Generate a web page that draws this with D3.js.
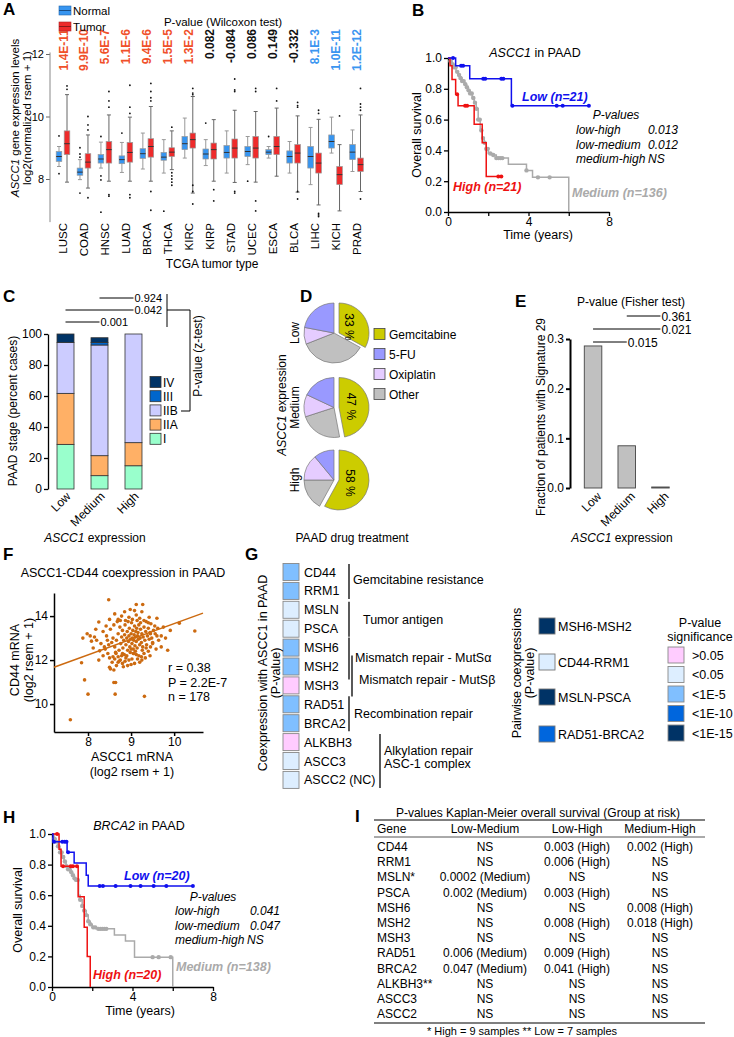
<!DOCTYPE html>
<html><head><meta charset="utf-8">
<script src="https://cdn.jsdelivr.net/npm/d3@7"></script>
<style>
body{margin:0;background:#fff;}
svg{display:block;font-family:"Liberation Sans",Arial,sans-serif;}
</style></head><body>
<svg id="fig" width="734" height="1037"></svg>
<script>
// ================= DATA =================
// Panel A
const tcgaTypes = ["LUSC","COAD","HNSC","LUAD","BRCA","THCA","KIRC","KIRP","STAD","UCEC","ESCA","BLCA","LIHC","KICH","PRAD"];
const wilcoxonP = ["1.4E-11","9.9E-10","5.6E-7","1.1E-6","9.4E-6","1.5E-5","1.3E-2","0.082","-0.084","0.086","0.149","-0.332","8.1E-3","1.0E-11","1.2E-12"];
const wilcoxonDir = ["up","up","up","up","up","up","up","ns","ns","ns","ns","ns","down","down","down"];
const normalLo  = [8.40,7.98,8.35,8.21,8.32,8.19,8.67,8.43,8.19,8.46,8.67,8.19,7.82,8.83,8.24];
const normalQ1  = [8.56,8.12,8.51,8.49,8.66,8.60,8.94,8.64,8.67,8.72,8.78,8.51,8.35,8.99,8.62];
const normalMed = [8.72,8.22,8.64,8.62,8.81,8.70,9.13,8.80,8.85,8.88,8.86,8.72,8.72,9.20,8.86];
const normalQ3  = [8.88,8.35,8.78,8.74,8.97,8.85,9.36,8.96,9.07,9.04,8.94,8.90,9.04,9.41,9.10];
const normalHi  = [9.04,8.62,9.18,9.17,9.47,9.26,9.95,9.26,9.54,9.36,9.04,9.20,9.65,9.98,9.57];
const normalOut = [[9.38,8.17],[9.0,8.8,8.7,7.55],[9.36,8.1,7.97,6.94],[9.47],[],[6.97],[],[9.79],[],[7.93],[9.36],[],[],[],[]];
const tumorLo   = [7.90,7.71,7.93,7.93,7.93,8.30,7.55,7.93,7.89,7.90,8.09,7.58,7.17,6.98,7.60];
const tumorQ1   = [8.78,8.35,8.51,8.54,8.70,8.72,8.99,8.64,8.67,8.67,8.78,8.51,8.19,7.82,8.24];
const tumorMed  = [9.13,8.54,8.94,8.85,9.04,8.86,9.26,8.94,8.99,8.99,9.04,8.83,8.51,8.14,8.46];
const tumorQ3   = [9.54,8.81,9.20,9.17,9.29,9.00,9.47,9.15,9.28,9.36,9.36,9.10,8.83,8.40,8.67];
const tumorHi   = [10.70,9.41,10.05,9.98,10.32,9.54,10.64,9.90,10.20,10.16,10.27,10.02,9.91,9.10,10.05];
const tumorOut  = [[10.98,10.87],[10.0,9.73,9.57,7.4],[10.8,10.5,10.3,7.5,7.45],[11.0,10.3,10.1,7.5,7.4],
  [11.06,10.8,10.6,10.5,7.6,7.0],[9.66,8.2,8.1,8.0,7.9,7.8],[10.9,10.75,10.7,7.8,7.6,7.2],[7.66,7.3],
  [11.2,10.85,10.8,7.6,7.55],[10.9,10.8,7.3,6.98],[10.9,10.5],[10.45,10.35,10.3,7.6,7.36],
  [10.2,10.1,6.9,6.85,6.8],[10.02],[10.9,10.4,10.3,10.2,7.36]];

// Panel B (ASCC1 KM)
const bLowT = [0,0.38,1.08,3.15], bLowS = [1,0.95,0.865,0.69], bLowEnd = 7.0;
const bLowCens = [0.25,0.65,0.75,1.75,1.85,2.65,2.75,3.2,5.4,5.7,7.0];
const bHighT = [0,0.1,0.2,0.38,0.5,1.3,1.7,1.9], bHighS = [1,0.95,0.86,0.765,0.69,0.57,0.45,0.23], bHighEnd = 2.7;
const bHighCens = [0.45,0.85,0.95,2.5,2.65];
const bMedT = [0,0.1,0.2,0.3,0.4,0.5,0.6,0.7,0.8,0.9,1.0,1.1,1.2,1.3,1.4,1.5,1.6,1.7,1.8,1.9,2.0,2.2,2.4,3.0,3.9,4.2,6.0];
const bMedS = [1,0.98,0.96,0.94,0.91,0.89,0.87,0.85,0.83,0.81,0.79,0.77,0.74,0.71,0.67,0.6,0.53,0.48,0.45,0.41,0.38,0.37,0.35,0.31,0.27,0.225,0];
const bMedEnd = 6.0;
const bMedCens = [0.12,0.22,0.3,0.38,0.46,0.55,0.62,0.7,0.78,0.86,0.94,1.02,1.1,1.18,1.26,1.34,1.42,1.5,1.58,1.66,1.74,1.82,1.9,1.98,2.1,2.25,2.4,2.5,2.6,2.7,3.9,4.47,5.05];
const bPvals = [["low-high","0.013"],["low-medium","0.012"],["medium-high","NS"]];

// Panel C
const stageNames = ["I","IIA","IIB","III","IV"];
const expGroups = ["Low","Medium","High"];
const stageLow = [28.8,32.9,32.9,0,5.4];
const stageMedium = [8.6,12.9,71.4,1.7,3.0];
const stageHigh = [15.0,14.9,70.1,0,0];
const stagePairs = [["Low","Medium","0.001"],["Low","High","0.042"],["Medium","High","0.924"]];

// Panel D
const drugNames = ["Gemcitabine","5-FU","Oxiplatin","Other"];
const drugLow = [33,22,9,36];
const drugMedium = [47,18,12,23];
const drugHigh = [58,11,14,17];

// Panel E
const sigFraction = [0.286,0.085,0.002];
const sigPairs = [["Low","Medium","0.015"],["Low","High","0.021"],["Medium","High","0.361"]];

// Panel F
const ascc1CD44 = [[8.48,14.74],[9.12,14.53],[9.27,14.53],[8.98,14.3],[8.25,13.73],[7.98,13.2],[7.88,13.0],[8.08,12.86],[8.15,13.05],
[8.27,12.42],[7.85,11.88],[7.92,11.1],[8.0,10.45],[7.59,9.29],[8.6,10.98],[8.64,10.98],[8.63,10.45],[9.31,10.35],[9.85,12.45],
[9.91,13.35],[10.12,13.68],[10.48,13.32],[8.5,11.67],[8.52,11.6],[8.58,12.15],[8.4,12.5],[8.35,13.3],[8.43,13.1],[8.48,12.7],
[8.7,13.85],[8.75,13.8],[9.2,13.9],[9.35,13.75],[9.6,13.9],[9.55,13.55],[9.45,13.2],[9.6,13.1],[9.5,12.8],[9.4,12.4],[9.3,12.3],
[9.2,11.9],[9.25,12.0],[9.0,11.8],[8.95,12.0],[8.8,11.85],[8.7,11.9],[8.65,12.3],[8.62,12.05],[8.78,12.2],[8.88,12.1],[9.05,12.3],
[9.12,12.25],[9.45,12.6],[8.62,12.6],[8.66,12.9],[8.7,13.2],[8.72,12.45],[8.74,13.5],[8.76,12.75],[8.78,13.05],[8.8,13.35],
[8.81,12.55],[8.83,12.9],[8.85,13.15],[8.86,13.6],[8.88,12.7],[8.9,13.0],[8.91,13.3],[8.92,12.45],[8.94,12.85],[8.95,13.1],
[8.96,13.45],[8.97,12.6],[8.99,12.95],[9.0,13.2],[9.01,13.7],[9.02,12.75],[9.03,13.0],[9.04,13.35],[9.05,12.5],[9.06,12.9],
[9.07,13.15],[9.08,13.55],[9.09,12.65],[9.1,13.05],[9.11,13.3],[9.12,12.85],[9.13,13.45],[9.14,12.55],[9.15,13.1],[9.16,13.25],
[9.17,12.95],[9.18,13.6],[9.2,12.7],[9.21,13.0],[9.22,13.4],[9.24,12.8],[9.25,13.2],[9.27,12.6],[9.28,13.05],[9.3,13.5],
[9.32,12.9],[9.34,13.3],[9.36,12.7],[9.38,13.1],[9.4,13.45],[9.42,12.95],[9.44,13.25],[9.46,13.65],[9.48,13.0],[9.52,13.35],
[8.58,13.0],[8.55,12.8],[8.52,13.4],[8.6,13.6],[8.64,12.35],[8.68,13.75],[8.7,12.15],[8.75,12.0],[8.8,12.3],[8.84,12.25],
[8.87,13.8],[8.9,12.2],[8.93,13.75],[8.98,12.35],[9.0,12.5],[9.03,13.85],[9.06,12.3],[9.1,12.4],[9.14,13.8],[9.18,12.2],
[9.22,13.7],[9.26,12.45],[9.3,13.8],[9.35,12.55],[9.4,13.7],[9.5,12.75],[9.56,13.2],[9.62,13.45],[9.64,12.9],[9.7,13.1],
[9.58,12.5],[8.45,12.9],[8.42,13.55],[8.38,12.6],[8.3,12.75],[8.2,12.9],[8.12,12.55],[8.05,13.1],[8.46,12.3],[8.56,11.9],
[8.66,11.75],[8.72,11.95],[8.82,11.7],[8.86,11.95],[8.92,11.75],[9.02,12.05],[9.08,11.85],[9.15,12.05],[9.24,12.15],[9.33,12.1],
[9.44,12.2],[8.5,12.1],[8.6,11.55],[8.95,13.95],[9.12,14.05],[9.42,13.95],[8.78,14.0],[8.5,13.85],[8.62,14.1],[9.25,14.2],
[9.08,14.25],[8.85,14.2],[9.7,12.6],[9.8,13.0],[9.75,13.5],[8.35,12.2],[8.25,12.0],[8.18,13.4]];
const regIntercept = 6.55, regSlope = 0.711;
const corrStats = ["r = 0.38","P = 2.2E-7","n = 178"];

// Panel G
const coexGenes = ["CD44","RRM1","MSLN","PSCA","MSH6","MSH2","MSH3","RAD51","BRCA2","ALKBH3","ASCC3","ASCC2 (NC)"];
const coexLevel = ["<1E-5","<1E-5","<0.05","<0.05","<1E-5","<1E-5",">0.05","<1E-5","<1E-5",">0.05","<0.05","<0.05"];
const geneGroups = [["Gemcitabine resistance",0,1],["Tumor antigen",2,3],["Mismatch repair - MutS\u03b1",4,5],
  ["Mismatch repair - MutS\u03b2",5,6],["Recombination repair",7,8],["Alkylation repair|ASC-1 complex",9,11]];
const sigLevels = [">0.05","<0.05","<1E-5","<1E-10","<1E-15"];
const pairNames = ["MSH6-MSH2","CD44-RRM1","MSLN-PSCA","RAD51-BRCA2"];
const pairLevel = ["<1E-15","<0.05","<1E-15","<1E-10"];

// Panel H (BRCA2 KM)
const hLowT = [0,0.05,0.75,1.1,1.7,1.8], hLowS = [1,0.95,0.88,0.81,0.73,0.66], hLowEnd = 7.0;
const hLowCens = [0.1,0.51,0.63,0.72,0.8,2.37,2.53,3.16,3.9,4.4,5.05,5.68,7.0];
const hHighT = [0,0.35,0.45,1.3,1.6,1.75,1.9], hHighS = [1,0.9,0.79,0.59,0.39,0.2,0], hHighEnd = 1.9;
const hHighCens = [0.25,0.55,0.93,1.04,1.24];
const hMedT = [0,0.1,0.2,0.3,0.4,0.5,0.6,0.7,0.8,0.9,1.0,1.1,1.2,1.32,1.4,1.5,1.6,1.7,1.8,1.9,2.0,2.2,3.1,3.65,4.1,6.0];
const hMedS = [1,0.97,0.95,0.92,0.88,0.85,0.82,0.79,0.77,0.75,0.73,0.71,0.7,0.6,0.57,0.53,0.5,0.47,0.43,0.41,0.39,0.38,0.34,0.3,0.195,0];
const hMedEnd = 6.0;
const hMedCens = [0.12,0.2,0.3,0.4,0.48,0.56,0.64,0.72,0.8,0.88,0.96,1.04,1.12,1.2,1.28,1.4,1.5,1.6,1.7,1.8,1.9,2.05,2.15,2.3,2.4,2.5,2.6,2.7,5.0,5.3,5.9];
const hPvals = [["low-high","0.041"],["low-medium","0.047"],["medium-high","NS"]];

// Panel I
const tableHeader = ["Gene","Low-Medium","Low-High","Medium-High"];
const tableGenes = ["CD44","RRM1","MSLN*","PSCA","MSH6","MSH2","MSH3","RAD51","BRCA2","ALKBH3**","ASCC3","ASCC2"];
const lowMedium = ["NS","NS","0.0002 (Medium)","0.002 (Medium)","NS","NS","NS","0.006 (Medium)","0.047 (Medium)","NS","NS","NS"];
const lowHigh = ["0.003 (High)","0.006 (High)","NS","0.003 (High)","NS","0.008 (High)","NS","0.009 (High)","0.041 (High)","NS","NS","NS"];
const mediumHigh = ["0.002 (High)","NS","NS","NS","0.008 (High)","0.018 (High)","NS","NS","NS","NS","NS","NS"];

// ================= DRAWING =================
const svg = d3.select("#fig");
svg.append("rect").attr("width",734).attr("height",1037).attr("fill","#fff");

function txt(x, y, s, o = {}) {
  const t = svg.append("text").attr("x", x).attr("y", y).text(s)
    .attr("font-size", o.size || 12).attr("fill", o.fill || "#000")
    .attr("text-anchor", o.anchor || "start");
  if (o.weight) t.attr("font-weight", o.weight);
  if (o.style) t.attr("font-style", o.style);
  if (o.rotate != null) t.attr("transform", `rotate(${o.rotate},${x},${y})`);
  return t;
}
function mixed(x, y, parts, o = {}) {
  const t = svg.append("text").attr("x", x).attr("y", y)
    .attr("font-size", o.size || 12).attr("fill", o.fill || "#000")
    .attr("text-anchor", o.anchor || "start");
  if (o.rotate != null) t.attr("transform", `rotate(${o.rotate},${x},${y})`);
  parts.forEach(p => { const s = t.append("tspan").text(p[0]); if (p[1]) s.attr("font-style", "italic"); });
  return t;
}
function line(x1, y1, x2, y2, c = "#000", w = 1) {
  svg.append("line").attr("x1", x1).attr("y1", y1).attr("x2", x2).attr("y2", y2).attr("stroke", c).attr("stroke-width", w);
}
function styleAxis(g, size = 12, w = 1.3) {
  g.selectAll("path,line").attr("stroke", "#000").attr("stroke-width", w);
  g.selectAll("text").attr("font-size", size).attr("font-family", "Liberation Sans, Arial, sans-serif").attr("fill", "#000");
}

// Panel letters
[["A",3,15],["B",412,16],["C",3,302],["D",300,302],["E",515,307],["F",3,560],["G",245,560],["H",3,823],["I",355,822]]
  .forEach(d => txt(d[1], d[2], d[0], {size: 17, weight: "bold"}));

// ---------- Panel A ----------
{
  const x = d3.scalePoint().domain(tcgaTypes).range([63, 356.5]);
  const y = d3.scaleLinear().domain([8, 12]).range([179, 54]);
  const ax = svg.append("g").attr("transform", "translate(50,0)")
    .call(d3.axisLeft(y).tickValues([8, 10, 12]).tickSize(4).tickPadding(2).tickSizeOuter(0).tickFormat(d3.format("d")));
  ax.select(".domain").remove();
  styleAxis(ax, 11, 1);
  ax.selectAll("line").attr("stroke", "#666");
  line(50, y(12.05), 50, y(6.62), "#888", 1);
  const bw = 5.6;
  function box(cx, lo, q1, med, q3, hi, outs, fill, wc) {
    line(cx, y(hi), cx, y(lo), wc, 1);
    line(cx - 2, y(hi), cx + 2, y(hi), wc, 1);
    line(cx - 2, y(lo), cx + 2, y(lo), wc, 1);
    svg.append("rect").attr("x", cx - bw / 2).attr("y", y(q3)).attr("width", bw).attr("height", y(q1) - y(q3))
      .attr("fill", fill).attr("stroke", "#999").attr("stroke-width", 0.7);
    line(cx - bw / 2, y(med), cx + bw / 2, y(med), "#333", 1);
    outs.forEach(v => svg.append("circle").attr("cx", cx).attr("cy", y(v)).attr("r", 0.9).attr("fill", "#111"));
  }
  tcgaTypes.forEach((c, i) => {
    const cx = x(c);
    box(cx - 4, normalLo[i], normalQ1[i], normalMed[i], normalQ3[i], normalHi[i], normalOut[i], "#3795f0", "#999");
    box(cx + 4, tumorLo[i], tumorQ1[i], tumorMed[i], tumorQ3[i], tumorHi[i], tumorOut[i], "#ee2b2b", "#666");
    txt(cx + 4, 223, c, {size: 11.5, anchor: "end", rotate: -90});
    const col = wilcoxonDir[i] === "up" ? "#f0502a" : wilcoxonDir[i] === "down" ? "#3b95f0" : "#111";
    txt(cx + 4.5, 29, wilcoxonP[i], {size: 12, anchor: "end", rotate: -90, weight: "bold", fill: col});
  });
  txt(212, 268, "TCGA tumor type", {size: 12, anchor: "middle"});
  mixed(19, 118, [["ASCC1", true], [" gene expression levels", false]], {size: 11.5, anchor: "middle", rotate: -90});
  txt(31, 118, "log2(normalized rsem + 1)", {size: 11.5, anchor: "middle", rotate: -90});
  // legend
  svg.append("rect").attr("x", 59).attr("y", 6).attr("width", 12).attr("height", 9).attr("fill", "#3795f0").attr("stroke", "#2266aa").attr("stroke-width", 0.6);
  svg.append("rect").attr("x", 59).attr("y", 22).attr("width", 12).attr("height", 9).attr("fill", "#ee2b2b").attr("stroke", "#aa2222").attr("stroke-width", 0.6);
  line(59, 10.5, 71, 10.5, "#1a4f88", 1);
  line(59, 26.5, 71, 26.5, "#881a1a", 1);
  txt(73, 15, "Normal", {size: 11.5});
  txt(73, 31, "Tumor", {size: 11.5});
  txt(223, 26, "P-value (Wilcoxon test)", {size: 11.5, anchor: "middle"});
}

// ---------- KM helper ----------
function drawKM(xs, ys, times, surv, end, cens, color, r) {
  const pts = [[times[0], surv[0]]];
  for (let i = 1; i < times.length; i++) { pts.push([times[i], surv[i - 1]]); pts.push([times[i], surv[i]]); }
  pts.push([end, surv[surv.length - 1]]);
  svg.append("path").attr("d", d3.line().x(d => xs(d[0])).y(d => ys(d[1]))(pts))
    .attr("fill", "none").attr("stroke", color).attr("stroke-width", 1.5);
  const sAt = t => { let s = surv[0]; times.forEach((tt, i) => { if (tt <= t) s = surv[i]; }); return s; };
  svg.append("g").selectAll("circle").data(cens).enter().append("circle")
    .attr("cx", t => xs(t)).attr("cy", t => ys(sAt(t))).attr("r", r).attr("fill", color);
}
function kmAxes(xs, ys) {
  const gx = svg.append("g").attr("transform", `translate(0,${ys(0)})`)
    .call(d3.axisBottom(xs).tickValues([0, 2, 4, 6, 8]).tickSize(4).tickPadding(1).tickSizeOuter(0).tickFormat(d => d % 4 === 0 ? d : ""));
  const gy = svg.append("g").attr("transform", `translate(${xs(0)},0)`)
    .call(d3.axisLeft(ys).tickValues([0, 0.2, 0.4, 0.6, 0.8, 1.0]).tickSize(4).tickPadding(2).tickSizeOuter(0).tickFormat(d3.format(".1f")));
  styleAxis(gx, 12); styleAxis(gy, 12);
}

// ---------- Panel B ----------
{
  const xs = d3.scaleLinear().domain([0, 8]).range([448, 609]);
  const ys = d3.scaleLinear().domain([0, 1]).range([212, 58]);
  kmAxes(xs, ys);
  drawKM(xs, ys, bMedT, bMedS, bMedEnd, bMedCens, "#aaaaaa", 2.2);
  drawKM(xs, ys, bHighT, bHighS, bHighEnd, bHighCens, "#ee1111", 2);
  drawKM(xs, ys, bLowT, bLowS, bLowEnd, bLowCens, "#1010ee", 2);
  mixed(535, 57, [["ASCC1", true], [" in PAAD", false]], {size: 12.5, anchor: "middle"});
  txt(421, 135, "Overall survival", {size: 12.5, anchor: "middle", rotate: -90});
  txt(538, 239, "Time (years)", {size: 12.5, anchor: "middle"});
  txt(522, 101, "Low (n=21)", {size: 12.5, weight: "bold", style: "italic", fill: "#1010ee"});
  txt(453, 191, "High (n=21)", {size: 12.5, weight: "bold", style: "italic", fill: "#ee1111"});
  txt(572, 197, "Medium (n=136)", {size: 12.5, weight: "bold", style: "italic", fill: "#aaaaaa"});
  txt(616, 119, "P-values", {size: 12, style: "italic", anchor: "middle"});
  bPvals.forEach((p, i) => {
    txt(576, 134 + i * 14.5, p[0], {size: 12, style: "italic"});
    if (p[1] === "NS") txt(576 + 72, 134 + i * 14.5, p[1], {size: 12, style: "italic"});
    else txt(648, 134 + i * 14.5, p[1], {size: 12, style: "italic"});
  });
}

// ---------- Panel C ----------
{
  const x = d3.scaleBand().domain(expGroups).range([48, 151]).paddingInner(0.5).paddingOuter(0.265);
  const y = d3.scaleLinear().domain([0, 100]).range([489, 334]);
  const stageColors = d3.scaleOrdinal().domain(stageNames).range(["#99ffcc", "#ffb066", "#ccccff", "#0066cc", "#003366"]);
  const gy = svg.append("g").attr("transform", "translate(48,0)")
    .call(d3.axisLeft(y).tickValues([0, 20, 40, 60, 80, 100]).tickSize(4).tickPadding(2).tickSizeOuter(0));
  styleAxis(gy, 12);
  const data = [stageLow, stageMedium, stageHigh];
  expGroups.forEach((g, gi) => {
    let acc = 0;
    stageNames.forEach((s, si) => {
      const v = data[gi][si];
      if (v > 0) {
        svg.append("rect").attr("x", x(g)).attr("width", x.bandwidth())
          .attr("y", y(acc + v)).attr("height", y(acc) - y(acc + v))
          .attr("fill", stageColors(s)).attr("stroke", "#333").attr("stroke-width", 0.8);
      }
      acc += v;
    });
    txt(x(g) + x.bandwidth() / 2 + 6, 497, g, {size: 12, anchor: "end", rotate: -45});
  });
  mixed(95, 542, [["ASCC1", true], [" expression", false]], {size: 12, anchor: "middle"});
  txt(17, 411, "PAAD stage (percent cases)", {size: 12, anchor: "middle", rotate: -90});
  // legend
  stageNames.slice().reverse().forEach((s, k) => {
    const cy = 382 + k * 14.2;
    svg.append("rect").attr("x", 150).attr("y", cy - 5.5).attr("width", 11).attr("height", 11)
      .attr("fill", stageColors(s)).attr("stroke", "#333").attr("stroke-width", 0.8);
    txt(163, cy + 4.5, s, {size: 12});
  });
  // brackets
  const yy = {"0.001": 322, "0.042": 310, "0.924": 298};
  stagePairs.forEach(p => {
    const x1 = x(p[0]) + x.bandwidth() / 2, x2 = x(p[1]) + x.bandwidth() / 2, yv = yy[p[2]];
    line(x1, yv, x2, yv, "#000", 1);
    txt(x2 + 1, yv + 4, p[2], {size: 11});
  });
  line(167, 294, 167, 327, "#000", 1);
  line(167, 310, 190, 310, "#000", 1);
  line(190, 310, 190, 411, "#000", 1);
  line(181, 411, 190, 411, "#000", 1);
  txt(202, 356, "P-value (z-test)", {size: 12, anchor: "middle", rotate: -90});
}

// ---------- Panel D ----------
{
  const drugColors = d3.scaleOrdinal().domain(drugNames).range(["#cccc00", "#9999ff", "#e5ccff", "#c0c0c0"]);
  const order = ["Gemcitabine", "Other", "Oxiplatin", "5-FU"];
  const pie = d3.pie().sort(null).value(d => d.v);
  const arc = d3.arc().innerRadius(0).outerRadius(30);
  const rows = [["Low", drugLow, 333], ["Medium", drugMedium, 407.5], ["High", drugHigh, 480]];
  rows.forEach(([lab, vals, cy]) => {
    const items = order.map(n => ({n, v: vals[drugNames.indexOf(n)]}));
    const arcs = pie(items);
    arcs.forEach(a => {
      const dx = a.data.n === "Gemcitabine" ? 5 : 0;
      svg.append("path").attr("d", arc(a)).attr("transform", `translate(${334 + dx},${cy})`)
        .attr("fill", drugColors(a.data.n)).attr("stroke", "#777").attr("stroke-width", 0.7);
      if (a.data.n === "Gemcitabine") {
        const mid = (a.startAngle + a.endAngle) / 2;
        const lx = 334 + dx + Math.sin(mid) * 12, ly = cy - Math.cos(mid) * 12;
        svg.append("text").attr("transform", `translate(${lx},${ly}) rotate(90)`)
          .attr("text-anchor", "middle").attr("dy", "0.35em").attr("font-size", 12).text(a.data.v + " %");
      }
    });
    txt(299, cy, lab, {size: 12, anchor: "middle", rotate: -90});
  });
  mixed(286, 405, [["ASCC1", true], [" expression", false]], {size: 12, anchor: "middle", rotate: -90});
  drugNames.forEach((n, k) => {
    const cy = 334 + k * 20;
    svg.append("rect").attr("x", 374).attr("y", cy - 5.5).attr("width", 11).attr("height", 11)
      .attr("fill", drugColors(n)).attr("stroke", "#444").attr("stroke-width", 0.8);
    txt(389, cy + 4.5, n, {size: 12});
  });
  txt(352, 542, "PAAD drug treatment", {size: 12, anchor: "middle"});
}

// ---------- Panel E ----------
{
  const x = d3.scaleBand().domain(expGroups).range([576.2, 677.3]).paddingInner(0.48).paddingOuter(0.24);
  const y = d3.scaleLinear().domain([0, 0.3]).range([488, 339]);
  const gy = svg.append("g").attr("transform", "translate(570,0)")
    .call(d3.axisLeft(y).tickValues([0, 0.1, 0.2, 0.3]).tickSize(4).tickPadding(2).tickSizeOuter(0).tickFormat(d3.format(".1f")));
  styleAxis(gy, 12, 2);
  expGroups.forEach((g, i) => {
    svg.append("rect").attr("x", x(g)).attr("width", x.bandwidth()).attr("y", y(sigFraction[i]))
      .attr("height", Math.max(1, y(0) - y(sigFraction[i]))).attr("fill", "#c0c0c0").attr("stroke", "#444").attr("stroke-width", 0.9);
    txt(x(g) + x.bandwidth() / 2 + 9, 497, g, {size: 12, anchor: "end", rotate: -45});
  });
  const yy = {"0.015": 342, "0.021": 329, "0.361": 316};
  sigPairs.forEach(p => {
    const x1 = x(p[0]) + x.bandwidth() / 2, x2 = x(p[1]) + x.bandwidth() / 2, yv = yy[p[2]];
    line(x1, yv, x2, yv, "#000", 1);
    txt(x2 + 1, yv + 4.5, p[2], {size: 12});
  });
  txt(631, 306, "P-value (Fisher test)", {size: 12, anchor: "middle"});
  txt(545, 417, "Fraction of patients with Signature 29", {size: 12, anchor: "middle", rotate: -90});
  mixed(622, 542, [["ASCC1", true], [" expression", false]], {size: 12, anchor: "middle"});
}

// ---------- Panel F ----------
{
  const xs = d3.scaleLinear().domain([7.21, 10.67]).range([54, 203]);
  const ys = d3.scaleLinear().domain([8.73, 15.05]).range([732, 593]);
  const gx = svg.append("g").attr("transform", "translate(0,732)")
    .call(d3.axisBottom(xs).tickValues([8, 9, 10]).tickSize(4).tickPadding(1).tickSizeOuter(0).tickFormat(d3.format("d")));
  const gy = svg.append("g").attr("transform", "translate(54,0)")
    .call(d3.axisLeft(ys).tickValues([10, 12, 14]).tickSize(4).tickPadding(2).tickSizeOuter(0).tickFormat(d3.format("d")));
  styleAxis(gx, 12, 1.5); styleAxis(gy, 12, 1.5);
  svg.append("g").selectAll("circle").data(ascc1CD44).enter().append("circle")
    .attr("cx", d => xs(d[0])).attr("cy", d => ys(d[1])).attr("r", 1.8).attr("fill", "#cc6a10");
  svg.append("line").attr("x1", xs(7.21)).attr("y1", ys(regIntercept + regSlope * 7.21))
    .attr("x2", xs(10.67)).attr("y2", ys(regIntercept + regSlope * 10.67)).attr("stroke", "#cc6a10").attr("stroke-width", 1.5);
  txt(123, 577, "ASCC1-CD44 coexpression in PAAD", {size: 12.5, anchor: "middle"});
  corrStats.forEach((s, i) => txt(168, 672 + i * 14.5, s, {size: 12.5}));
  txt(19, 660, "CD44 mRNA", {size: 12.5, anchor: "middle", rotate: -90});
  txt(33, 660, "(log2 rsem + 1)", {size: 12.5, anchor: "middle", rotate: -90});
  txt(132, 761, "ASCC1 mRNA", {size: 12.5, anchor: "middle"});
  txt(132, 776, "(log2 rsem + 1)", {size: 12.5, anchor: "middle"});
}

// ---------- Panel G ----------
{
  const sigColor = d3.scaleOrdinal().domain(sigLevels).range(["#ffccff", "#ddeeff", "#80bfff", "#0066dd", "#003366"]);
  const rowY = i => 572 + i * 18.9;
  coexGenes.forEach((g, i) => {
    svg.append("rect").attr("x", 283).attr("y", rowY(i) - 8.5).attr("width", 16).attr("height", 17)
      .attr("fill", sigColor(coexLevel[i])).attr("stroke", "#888").attr("stroke-width", 0.9);
    txt(304, rowY(i) + 4.5, g, {size: 12.5});
  });
  const lx = [349, 349, 349, 352, 349, 380];
  const tx = [353, 363, 355, 359, 354, 384];
  const ty = [-2, 0, 0, 4, 0, -4];
  geneGroups.forEach((grp, k) => {
    const y1 = rowY(grp[1]) - 8, y2 = rowY(grp[2]) + 8;
    const yAdj = (k === 2) ? [-2, 5] : (k === 3) ? [-3, 3] : [0, 0];
    line(lx[k], y1 + yAdj[0], lx[k], y2 + yAdj[1], "#000", 1.3);
    const lines = grp[0].split("|");
    const mid = (y1 + y2) / 2 + ty[k];
    lines.forEach((s, j) => txt(tx[k], mid + 4.5 + (j - (lines.length - 1) / 2) * 13, s, {size: 12.5}));
  });
  txt(267, 673, "Coexpression with ASCC1 in PAAD", {size: 12.5, anchor: "middle", rotate: -90});
  txt(280, 673, "(P-value)", {size: 12.5, anchor: "middle", rotate: -90});
  // pairwise
  const pY = [626, 662, 697, 734];
  pairNames.forEach((p, i) => {
    svg.append("rect").attr("x", 539).attr("y", pY[i] - 8).attr("width", 16).attr("height", 16)
      .attr("fill", sigColor(pairLevel[i])).attr("stroke", "#777").attr("stroke-width", 0.9);
    txt(558, pY[i] + 4.5, p, {size: 12.5});
  });
  txt(521, 673, "Pairwise coexpressions", {size: 12.5, anchor: "middle", rotate: -90});
  txt(534, 673, "(P-value)", {size: 12.5, anchor: "middle", rotate: -90});
  txt(700, 627, "P-value", {size: 12.5, anchor: "middle"});
  txt(700, 641, "significance", {size: 12.5, anchor: "middle"});
  sigLevels.forEach((s, k) => {
    const cy = 655 + k * 19.5;
    svg.append("rect").attr("x", 668).attr("y", cy - 8).attr("width", 16).attr("height", 16)
      .attr("fill", sigColor(s)).attr("stroke", "#888").attr("stroke-width", 0.9);
    txt(692, cy + 4.5, s, {size: 12.5});
  });
}

// ---------- Panel H ----------
{
  const xs = d3.scaleLinear().domain([0, 8]).range([52, 213]);
  const ys = d3.scaleLinear().domain([0, 1]).range([987, 834]);
  kmAxes(xs, ys);
  drawKM(xs, ys, hMedT, hMedS, hMedEnd, hMedCens, "#aaaaaa", 2.2);
  drawKM(xs, ys, hHighT, hHighS, hHighEnd, hHighCens, "#ee1111", 2);
  drawKM(xs, ys, hLowT, hLowS, hLowEnd, hLowCens, "#1010ee", 2);
  mixed(139, 830, [["BRCA2", true], [" in PAAD", false]], {size: 12.5, anchor: "middle"});
  txt(22, 910, "Overall survival", {size: 12.5, anchor: "middle", rotate: -90});
  txt(140, 1015, "Time (years)", {size: 12.5, anchor: "middle"});
  txt(124, 880, "Low (n=20)", {size: 12.5, weight: "bold", style: "italic", fill: "#1010ee"});
  txt(93, 979, "High (n=20)", {size: 12.5, weight: "bold", style: "italic", fill: "#ee1111"});
  txt(176, 971, "Medium (n=138)", {size: 12.5, weight: "bold", style: "italic", fill: "#aaaaaa"});
  txt(213, 901, "P-values", {size: 12, style: "italic", anchor: "middle"});
  hPvals.forEach((p, i) => {
    txt(175, 915 + i * 14.5, p[0], {size: 12, style: "italic"});
    if (p[1] === "NS") txt(175 + 72, 915 + i * 14.5, p[1], {size: 12, style: "italic"});
    else txt(250, 915 + i * 14.5, p[1], {size: 12, style: "italic"});
  });
}

// ---------- Panel I ----------
{
  txt(538, 817, "P-values Kaplan-Meier overall survival (Group at risk)", {size: 12, anchor: "middle"});
  line(374, 820, 705, 820, "#555", 1.5);
  line(374, 837, 705, 837, "#555", 1);
  line(374, 1023, 705, 1023, "#555", 1.5);
  const colX = [377, 485, 577, 660];
  txt(colX[0], 833, tableHeader[0], {size: 12});
  tableHeader.slice(1).forEach((h, i) => txt(colX[i + 1], 833, h, {size: 12, anchor: "middle"}));
  tableGenes.forEach((g, i) => {
    const by = 851 + i * 15.2;
    txt(colX[0], by, g, {size: 12});
    txt(colX[1], by, lowMedium[i], {size: 12, anchor: "middle"});
    txt(colX[2], by, lowHigh[i], {size: 12, anchor: "middle"});
    txt(colX[3], by, mediumHigh[i], {size: 12, anchor: "middle"});
  });
  txt(522, 1035, "* High = 9 samples  ** Low = 7 samples", {size: 11, anchor: "middle"});
}
</script>
</body></html>
